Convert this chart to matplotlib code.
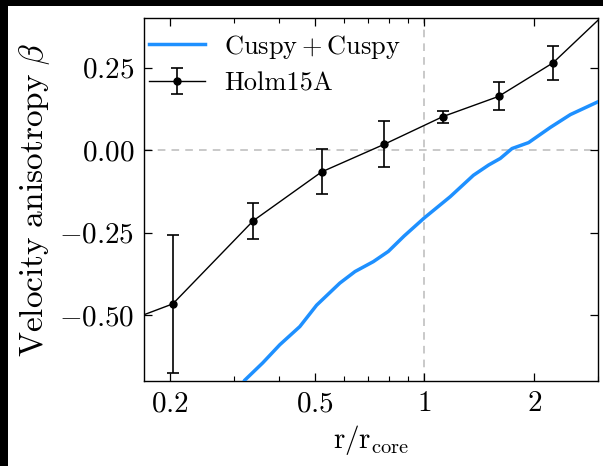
import numpy as np
import matplotlib
matplotlib.use("Agg")
import matplotlib.pyplot as plt
from matplotlib.patches import Rectangle
from matplotlib.ticker import FixedLocator, FixedFormatter, LogLocator, NullFormatter

plt.rcParams['font.family'] = 'serif'
plt.rcParams['font.serif'] = ['cmr10', 'DejaVu Serif']
plt.rcParams['mathtext.fontset'] = 'cm'
plt.rcParams['axes.formatter.use_mathtext'] = True
plt.rcParams['axes.unicode_minus'] = True

# Holm15A measurements
r_holm = [0.204, 0.339, 0.522, 0.776, 1.124, 1.597, 2.254]
beta_holm = [-0.466, -0.214, -0.066, 0.018, 0.102, 0.163, 0.265]
err_lo = [0.209, 0.056, 0.067, 0.070, 0.018, 0.042, 0.051]
err_hi = [0.209, 0.055, 0.069, 0.071, 0.017, 0.043, 0.052]
# line continuation beyond the outermost points
r_ext_in = [0.16, 0.204]
beta_ext_in = [-0.51, -0.466]
r_ext_out = [2.254, 3.1]
beta_ext_out = [0.265, 0.41]

# Cuspy + Cuspy model curve
r_model = [0.30, 0.321, 0.36, 0.401, 0.455, 0.506, 0.586, 0.645, 0.724, 0.796,
           0.88, 1.0, 1.177, 1.363, 1.50, 1.615, 1.739, 1.931, 2.215, 2.515, 3.05]
beta_model = [-0.76, -0.698, -0.645, -0.59, -0.535, -0.47, -0.403, -0.368, -0.338,
              -0.307, -0.26, -0.205, -0.141, -0.076, -0.045, -0.025, 0.005, 0.023,
              0.069, 0.108, 0.151]

xticks = [0.2, 0.5, 1, 2]
xticklabels = [r'$\mathdefault{0.2}$', r'$\mathdefault{0.5}$', r'$\mathdefault{1}$', r'$\mathdefault{2}$']
yticks = [-0.5, -0.25, 0.0, 0.25]

fig = plt.figure(figsize=(6.03, 4.66), dpi=100, facecolor='black')
fig.patches.append(Rectangle((8 / 603, 0), 1, 1 - 6 / 466, transform=fig.transFigure,
                             facecolor='white', edgecolor='none', zorder=-10))
ax = fig.add_axes([0.2388, 0.1824, 0.7534, 0.7783])

ax.axhline(0, color='#bbbbbb', ls=(0, (5, 4)), lw=1.1, zorder=1)
ax.axvline(1, color='#bbbbbb', ls=(0, (5, 4)), lw=1.1, zorder=1)

ax.plot(r_model, beta_model, color='#1e90ff', lw=2.5, label=r'$\mathrm{Cuspy}+\mathrm{Cuspy}$', zorder=3)
ax.plot(r_ext_in, beta_ext_in, color='black', lw=1.0, zorder=4)
ax.plot(r_ext_out, beta_ext_out, color='black', lw=1.0, zorder=4)
ax.errorbar(r_holm, beta_holm, yerr=[err_lo, err_hi], fmt='-o', color='black', lw=1.0,
            ms=5, capsize=4, elinewidth=1.2, capthick=1.2, label='Holm15A', zorder=5)

ax.set_xscale('log')
ax.set_xlim(0.17, 3.0)
ax.set_ylim(-0.7, 0.4)
ax.xaxis.set_major_locator(FixedLocator(xticks))
ax.xaxis.set_major_formatter(FixedFormatter(xticklabels))
ax.xaxis.set_minor_locator(LogLocator(base=10, subs=np.arange(2, 10) * 1.0))
ax.xaxis.set_minor_formatter(NullFormatter())
ax.set_yticks(yticks)

ax.tick_params(which='both', direction='in', top=True, right=True, labelsize=21, pad=7)
ax.tick_params(which='major', length=6, width=0.9)
ax.tick_params(which='minor', length=3.5, width=0.8)
for s in ax.spines.values():
    s.set_linewidth(1.0)

ax.set_xlabel(r'$\mathrm{r/r_{core}}$', fontsize=21, labelpad=4)
ax.set_ylabel(r'$\mathrm{Velocity\ anisotropy}\ \beta$', fontsize=24, labelpad=5)

ax.legend(loc='upper left', bbox_to_anchor=(0.0, 0.975), frameon=False, fontsize=19,
          handlelength=2.1, borderaxespad=0.0, borderpad=0.2, labelspacing=0.42,
          handletextpad=0.75)

fig.savefig('out.png', dpi=100, facecolor=fig.get_facecolor())
